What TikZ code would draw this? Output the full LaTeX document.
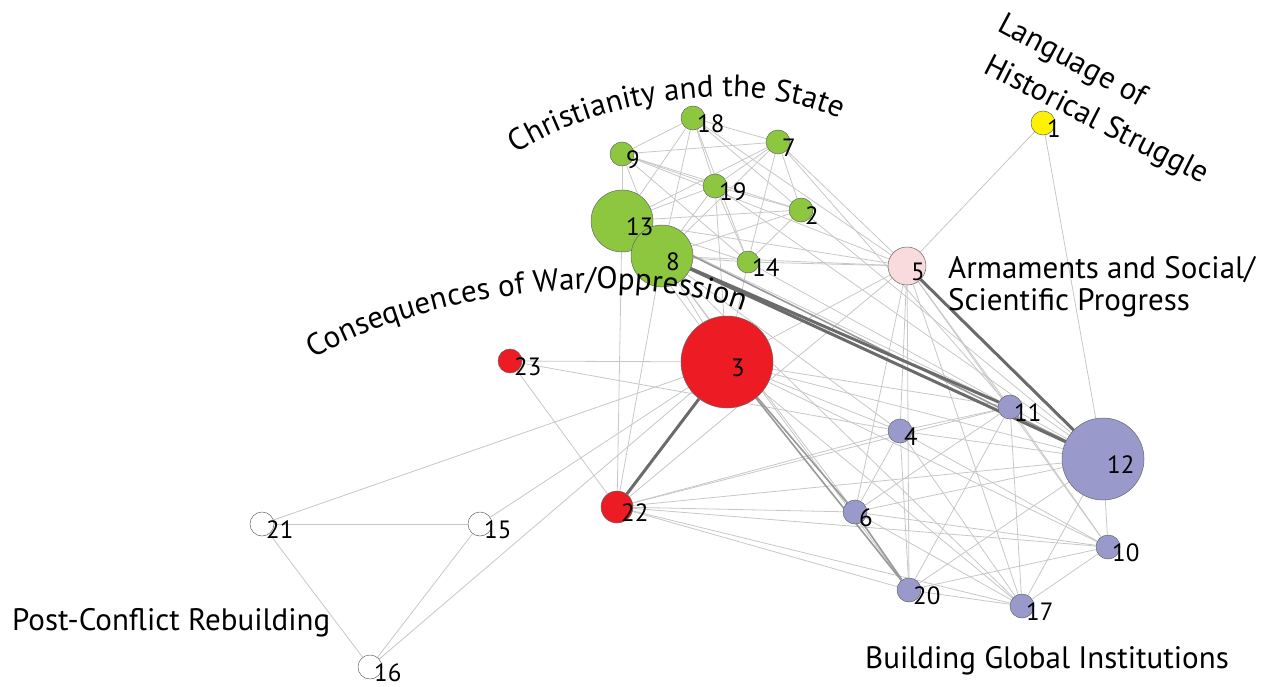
\documentclass[tikz,border=0pt]{standalone}
\usepackage{fontspec}
\setmainfont{PT Sans}
\usetikzlibrary{backgrounds,decorations.text}
\pgfdeclarelayer{fg}
\pgfsetlayers{background,main,fg}
\definecolor{cgreen}{HTML}{8DC63F}
\definecolor{cred}{HTML}{ED1C24}
\definecolor{cpur}{HTML}{9999CC}
\definecolor{cpink}{HTML}{FADBDD}
\definecolor{cyel}{HTML}{FFF200}
\newcommand\arcfont{\fontsize{31}{31}\selectfont}
\newcommand\gnode[5]{%
  \node[nd,fill=#5,minimum size=#4*2pt] (n#1) at (#2,-#3) {};
  \begin{pgfonlayer}{fg}\node[num] (t#1) at (#2+4,-#3-6) {#1};\end{pgfonlayer}}
\begin{document}
\begin{tikzpicture}[x=1pt,y=1pt,
  nd/.style={circle,draw=black!60,line width=0.5pt,inner sep=0pt},
  num/.style={font=\fontsize{25}{25}\selectfont,inner sep=0pt,anchor=west},
  lab/.style={font=\fontsize{31}{31}\selectfont,inner sep=0pt,anchor=base west},
  ed/.style={draw=black!22,line width=0.8pt},
  med/.style={draw=black!40,line width=1.6pt},
  thk/.style={draw=black!58,line width=3pt}]
\useasboundingbox (0,0) rectangle (1273,-687);
% nodes
\gnode{1}{1043}{123}{12}{cyel}
\gnode{5}{907}{266}{19}{cpink}
\gnode{18}{693}{118}{12}{cgreen}
\gnode{7}{778}{142}{12}{cgreen}
\gnode{9}{622}{154}{12}{cgreen}
\gnode{19}{715}{186}{12}{cgreen}
\gnode{2}{801}{210}{12}{cgreen}
\gnode{13}{622}{221}{31}{cgreen}
\gnode{8}{662}{256}{31}{cgreen}
\gnode{14}{748}{262}{11}{cgreen}
\gnode{3}{727}{362}{46}{cred}
\gnode{23}{510}{361}{12}{cred}
\gnode{22}{617}{507}{16}{cred}
\gnode{11}{1010}{407}{12}{cpur}
\gnode{4}{900}{431}{12}{cpur}
\gnode{12}{1103}{459}{41}{cpur}
\gnode{6}{855}{512}{12}{cpur}
\gnode{10}{1108}{547}{12}{cpur}
\gnode{20}{909}{590}{12}{cpur}
\gnode{17}{1022}{606}{12}{cpur}
\gnode{21}{262}{524}{12}{white}
\gnode{15}{480}{524}{12}{white}
\gnode{16}{370}{667}{12}{white}
% edges
\begin{pgfonlayer}{background}
\foreach \a/\b in {1/5,1/12,
  9/18,9/7,9/19,9/2,9/13,9/14,9/8,18/7,18/19,18/13,18/8,18/14,18/2,
  7/19,7/13,7/8,7/2,7/14,19/13,19/8,19/2,19/14,2/13,2/8,2/14,14/13,14/8,
  18/5,13/5,8/5,14/5,7/5,9/5,13/3,8/3,19/3,14/3,
  2/12,7/11,13/11,14/11,8/4,8/6,8/20,8/17,19/12,
  22/13,22/8,22/23,22/4,22/11,22/12,22/6,22/10,22/17,22/20,22/5,
  3/23,3/21,3/15,3/16,3/11,3/12,3/4,3/17,3/10,23/4,
  21/15,21/16,15/16,
  11/4,11/6,11/20,11/17,11/10,11/12,4/12,4/6,4/20,4/17,4/10,
  6/12,6/17,6/10,12/20,12/17,12/10,20/17,20/10,17/10,
  5/11,5/4,5/6,5/20,5/17,5/10,5/3}
  \draw[ed] (n\a) -- (n\b);
\draw[med] (n3) -- (n20);
\draw[med] (n3) -- (n6);
\draw[med] (n6) -- (n20);
\draw[med] (n13) -- (n12);
\draw[thk] (n8) -- (n11);
\draw[thk] (n8) -- (n12);
\draw[thk] (n5) -- (n12);
\draw[thk] (n3) -- (n22);
\end{pgfonlayer}
% labels
\path[decorate,decoration={text along path,text align=center,
  text={|\arcfont|Christianity and the State}}]
  (506,-160) .. controls (600,-95) and (760,-75) .. (850,-124);
\path[decorate,decoration={text along path,text align=center,
  text={|\arcfont|Consequences of War/Oppression}}]
  (303,-365) .. controls (420,-290) and (640,-265) .. (754,-315);
\node[lab,rotate=-28] (lang1) at (996,-30) {Language of};
\node[lab,rotate=-27] (lang2) at (982,-72) {Historical Struggle};
\node[lab] (arm1) at (948,-278) {Armaments and Social/};
\node[lab] (arm2) at (948,-310) {Scientific Progress};
\node[lab] (bgi) at (865,-668) {Building Global Institutions};
\node[lab] (pcr) at (12,-630) {Post-Conflict Rebuilding};
\end{tikzpicture}
\end{document}
